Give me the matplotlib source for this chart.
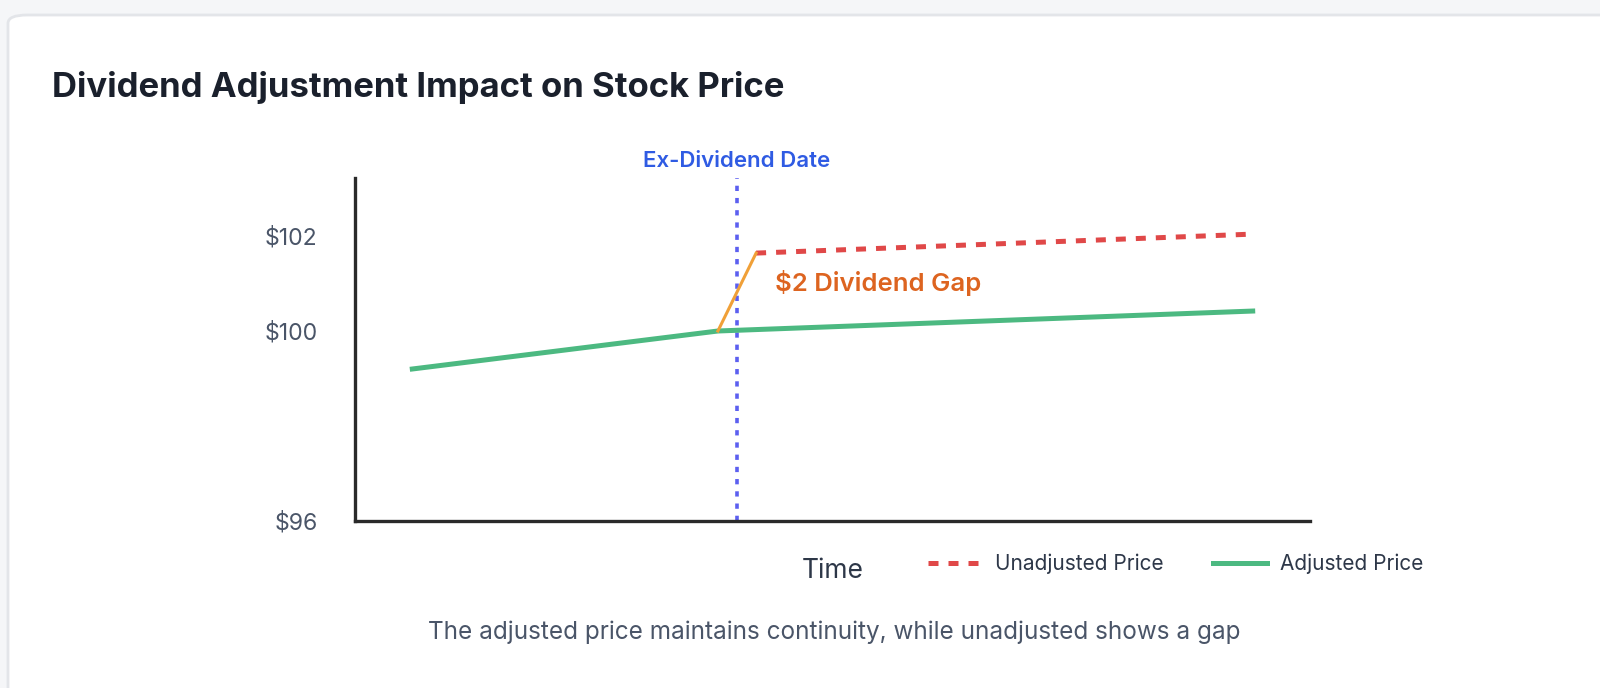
import numpy as np
import matplotlib
matplotlib.use("Agg")
import matplotlib.pyplot as plt
from matplotlib.patches import FancyBboxPatch

plt.rcParams['font.family'] = ['Inter', 'DejaVu Sans']
plt.rcParams['lines.scale_dashes'] = False

# data (x = time position 0..100, y = price in $)
adj_x = [6, 38, 94]
adj_y = [99.2, 100.0, 100.42]
unadj_x = [42, 94]
unadj_y = [101.64, 102.04]
gap_x = [38, 42]
gap_y = [100.0, 101.64]
ex_date = 40
yticks = [96, 100, 102]
ytick_labels = ['$96', '$100', '$102']

W, H = 1600, 688
fig = plt.figure(figsize=(W / 100, H / 100), dpi=100)
fig.patch.set_facecolor('#f5f6f8')

# card
card = FancyBboxPatch((8 / W, 0 - 20 / H), (W + 20) / W, (H - 15 + 20) / H,
                      boxstyle="round,pad=0,rounding_size=0.012",
                      transform=fig.transFigure, facecolor='white',
                      edgecolor='#e3e5e9', linewidth=2.0, zorder=-10)
fig.patches.append(card)

fig.text(52 / W, 1 - 88 / H, 'Dividend Adjustment Impact on Stock Price',
         fontsize=25, fontweight='bold', color='#1a202c', va='center', ha='left')

ax = fig.add_axes([355 / W, 1 - 521 / H, (1310 - 355) / W, (521 - 178) / H])
ax.set_facecolor('none')
ax.set_xlim(0, 100)
ax.set_ylim(96, 96 + 343 / 47.5)

red, = ax.plot(unadj_x, unadj_y, color='#e04848', lw=3.6,
               linestyle=(0, (7.2, 7.2)), label='Unadjusted Price',
               solid_capstyle='butt', dash_capstyle='butt')
green, = ax.plot(adj_x, adj_y, color='#4cb981', lw=3.6, label='Adjusted Price',
                 solid_joinstyle='miter')
ax.plot(gap_x, gap_y, color='#f0a038', lw=2.2)
ax.axvline(ex_date, color='#5c5ff0', lw=2.6, linestyle=(0, (3.8, 5.0)),
           dash_capstyle='butt', zorder=1)

ax.annotate('Ex-Dividend Date', xy=(ex_date, 1), xycoords=('data', 'axes fraction'),
            xytext=(0, 12), textcoords='offset points', ha='center', va='center',
            fontsize=16, fontweight='semibold', color='#2f5be3')
ax.text(44, 101.0, '$2 Dividend Gap', fontsize=18.5, fontweight='semibold',
        color='#dd6420', va='center', ha='left')

for side in ['top', 'right']:
    ax.spines[side].set_visible(False)
for side in ['left', 'bottom']:
    ax.spines[side].set_color('#2a2a2a')
    ax.spines[side].set_linewidth(2.4)
ax.set_xticks([])
ax.set_yticks(yticks)
ax.set_yticklabels(ytick_labels)
ax.tick_params(axis='y', length=0, pad=27, labelsize=16.6, labelcolor='#4a5568')

ax.set_xlabel('Time', fontsize=19, color='#2d3748', labelpad=27)

ax.legend(handles=[red, green], loc='center left', ncol=2, frameon=False,
          bbox_to_anchor=((928 - 355) / (1310 - 355), -43 / 343),
          fontsize=15, labelcolor='#2d3748', handlelength=2.6,
          handletextpad=0.6, columnspacing=2.4, borderaxespad=0, borderpad=0)

fig.text(834 / W, 1 - 632 / H,
         'The adjusted price maintains continuity, while unadjusted shows a gap',
         fontsize=17.5, color='#4a5568', ha='center', va='center')

fig.savefig('out.png', dpi=100, facecolor=fig.get_facecolor())
